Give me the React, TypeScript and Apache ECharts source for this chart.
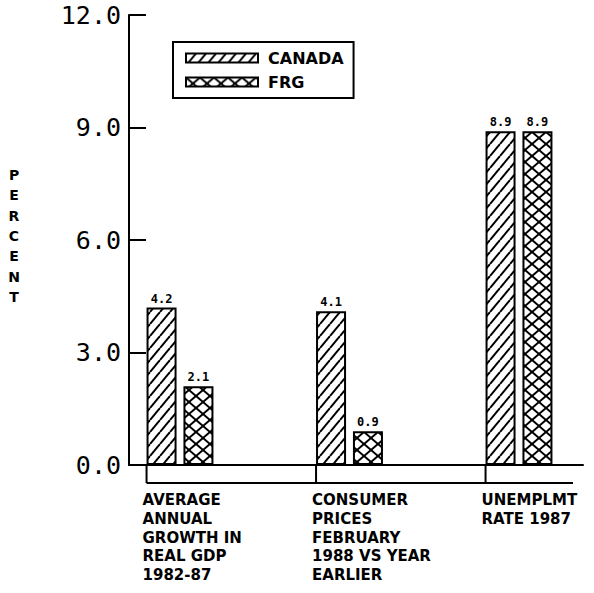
import React, { useEffect, useRef } from "react";
import * as echarts from "echarts";

const categories = [
  "AVERAGE\nANNUAL\nGROWTH IN\nREAL GDP\n1982-87",
  "CONSUMER\nPRICES\nFEBRUARY\n1988 VS YEAR\nEARLIER",
  "UNEMPLMT\nRATE 1987",
];
const seriesNames = ["CANADA", "FRG"];
const canadaValues = [4.2, 4.1, 8.9];
const frgValues = [2.1, 0.9, 8.9];
const yAxisTitle = "PERCENT";

const BAR_W = 30;
const GAP_PCT = 0.23;

function makePattern(w: number, h: number, cross: boolean) {
  const c = document.createElement("canvas");
  c.width = w;
  c.height = h;
  const ctx = c.getContext("2d")!;
  ctx.fillStyle = "#fff";
  ctx.fillRect(0, 0, w, h);
  ctx.strokeStyle = "#000";
  ctx.lineWidth = 2;
  const seg = (x1: number, y1: number, x2: number, y2: number) => {
    ctx.beginPath();
    ctx.moveTo(x1, y1);
    ctx.lineTo(x2, y2);
    ctx.stroke();
  };
  for (const dx of [-w, 0, w]) seg(dx, h, dx + w, 0);
  if (cross) for (const dx of [-w, 0, w]) seg(dx, 0, dx + w, h);
  return c;
}

export default function App() {
  const ref = useRef<HTMLDivElement>(null);
  useEffect(() => {
    if (!ref.current) return;
    const chart = echarts.init(ref.current, undefined, { renderer: "svg" });
    const canadaPat = makePattern(10, 12, false);
    const frgPat = makePattern(14, 12, true);
    const labelCfg = {
      show: true,
      position: "top",
      distance: 3,
      formatter: (p: any) => Number(p.value).toFixed(1),
      fontFamily: "DejaVu Sans Mono",
      fontWeight: "bold",
      fontSize: 12,
      color: "#000",
    };
    const option: any = {
      animation: false,
      backgroundColor: "#fff",
      grid: [
        { left: 129, top: 15, width: 454, height: 450 },
        { left: 95.25, top: 15, width: 508.5, height: 450 },
      ],
      xAxis: [
        {
          gridIndex: 0,
          type: "value",
          min: 0,
          max: 1,
          axisLine: { show: true, lineStyle: { color: "#000", width: 2 } },
          axisTick: { show: false },
          axisLabel: { show: false },
          splitLine: { show: false },
        },
        { gridIndex: 1, type: "category", data: categories, show: false },
      ],
      yAxis: [
        {
          gridIndex: 0,
          type: "value",
          min: 0,
          max: 12,
          interval: 3,
          axisLine: { show: true, lineStyle: { color: "#000", width: 2 } },
          axisTick: { show: true, inside: true, length: 17, lineStyle: { color: "#000", width: 2 } },
          axisLabel: {
            formatter: (v: number) => v.toFixed(1),
            fontFamily: "DejaVu Sans Mono",
            fontSize: 25,
            color: "#000",
            margin: 8,
          },
          splitLine: { show: false },
        },
        { gridIndex: 1, type: "value", min: 0, max: 12, show: false },
      ],
      legend: {
        left: 173,
        top: 42,
        orient: "vertical",
        padding: [8, 10, 8, 12],
        itemGap: 8,
        itemWidth: 72,
        itemHeight: 9,
        borderColor: "#000",
        borderWidth: 2,
        icon: "rect",
        textStyle: {
          fontFamily: "DejaVu Sans",
          fontWeight: "bold",
          fontSize: 16,
          color: "#000",
          padding: [0, 0, 0, 5],
        },
        data: seriesNames,
      },
      series: [
        {
          name: seriesNames[0],
          type: "bar",
          xAxisIndex: 1,
          yAxisIndex: 1,
          data: canadaValues,
          barWidth: BAR_W,
          barGap: GAP_PCT * 100 + "%",
          itemStyle: { color: { image: canadaPat, repeat: "repeat" }, borderColor: "#000", borderWidth: 2 },
          label: labelCfg,
        },
        {
          name: seriesNames[1],
          type: "bar",
          xAxisIndex: 1,
          yAxisIndex: 1,
          data: frgValues,
          barWidth: BAR_W,
          barGap: GAP_PCT * 100 + "%",
          itemStyle: { color: { image: frgPat, repeat: "repeat" }, borderColor: "#000", borderWidth: 2 },
          label: labelCfg,
        },
      ],
    };
    chart.setOption(option);

    const y0 = chart.convertToPixel({ yAxisIndex: 1 } as any, 0) as number;
    const xRight = chart.convertToPixel({ xAxisIndex: 0 } as any, 1) as number;
    const half = BAR_W + (BAR_W * GAP_PCT) / 2;
    const lefts = categories.map((_, i) => (chart.convertToPixel({ xAxisIndex: 1 } as any, i) as number) - half);
    const graphic: any[] = [];
    lefts.forEach((lx, i) => {
      graphic.push({
        type: "line",
        shape: { x1: lx, y1: y0, x2: lx, y2: y0 + 18 },
        style: { stroke: "#000", lineWidth: 2 },
      });
      graphic.push({
        type: "text",
        x: lx - 4,
        y: y0 + 26,
        style: {
          text: categories[i],
          font: 'bold 15px "DejaVu Sans"',
          fontFamily: "DejaVu Sans",
          fontWeight: "bold",
          fontSize: 15,
          lineHeight: 18.7,
          fill: "#000",
          textVerticalAlign: "top",
          verticalAlign: "top",
        },
      });
    });
    graphic.push({
      type: "line",
      shape: { x1: lefts[0], y1: y0 + 18, x2: xRight - 10, y2: y0 + 18 },
      style: { stroke: "#000", lineWidth: 2 },
    });
    graphic.push({
      type: "text",
      x: 14,
      y: 165,
      style: {
        text: yAxisTitle.split("").join("\n"),
        font: 'bold 14px "DejaVu Sans"',
        fontFamily: "DejaVu Sans",
        fontWeight: "bold",
        fontSize: 14,
        lineHeight: 20.3,
        fill: "#000",
        textAlign: "center",
        align: "center",
        textVerticalAlign: "top",
        verticalAlign: "top",
      },
    });
    chart.setOption({ graphic });

    return () => chart.dispose();
  }, []);
  return (
    <div
      style={{ position: "absolute", left: 0, top: 0, width: 594, height: 593, overflow: "hidden" }}
    >
      <div ref={ref} style={{ width: 620, height: 593 }} />
    </div>
  );
}
